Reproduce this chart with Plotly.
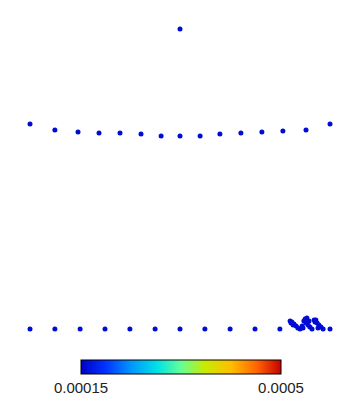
import plotly.graph_objects as go

# point positions (arbitrary units) and scalar values
x_vals = [0.500,
          0.000, 0.083, 0.160, 0.230, 0.300, 0.370, 0.437, 0.500, 0.567, 0.633, 0.703, 0.773, 0.843, 0.920, 1.000,
          0.000, 0.083, 0.167, 0.250, 0.333, 0.417, 0.500, 0.583, 0.667, 0.750, 0.833, 1.000,
          0.867, 0.873, 0.880, 0.887, 0.893, 0.900, 0.877, 0.870,
          0.907, 0.913, 0.917, 0.923, 0.920, 0.927, 0.933, 0.940, 0.910, 0.930,
          0.947, 0.953, 0.957, 0.963, 0.970, 0.977, 0.960, 0.950]
y_vals = [1.000,
          0.683, 0.663, 0.657, 0.653, 0.653, 0.650, 0.643, 0.643, 0.643, 0.650, 0.653, 0.657, 0.660, 0.663, 0.683,
          0.000, 0.000, 0.000, 0.000, 0.000, 0.000, 0.000, 0.000, 0.000, 0.000, 0.000, 0.000,
          0.027, 0.023, 0.017, 0.010, 0.003, 0.000, 0.013, 0.020,
          0.010, 0.027, 0.033, 0.037, 0.020, 0.013, 0.007, 0.000, 0.003, 0.027,
          0.030, 0.030, 0.020, 0.013, 0.007, 0.000, 0.003, 0.023]
c_vals = [0.00016] * len(x_vals)

cmin, cmax = 0.00015, 0.0005
tick_vals = [0.00015, 0.0005]
tick_text = ["0.00015", "0.0005"]

colorscale = [
    [0.0, "rgb(0,0,200)"],
    [0.12, "rgb(0,50,255)"],
    [0.25, "rgb(0,150,255)"],
    [0.38, "rgb(0,225,230)"],
    [0.5, "rgb(100,255,150)"],
    [0.62, "rgb(200,235,0)"],
    [0.75, "rgb(255,190,0)"],
    [0.88, "rgb(255,100,0)"],
    [1.0, "rgb(200,0,0)"],
]

W, H = 362, 395
OFF = 8  # page body margin
fig = go.Figure(go.Scatter(
    x=x_vals, y=y_vals, mode="markers",
    marker=dict(
        size=5, color=c_vals, cmin=cmin, cmax=cmax, colorscale=colorscale,
        line=dict(width=0),
        colorbar=dict(
            orientation="h", lenmode="pixels", len=200, thickness=14,
            x=(181 - OFF) / W, xanchor="center", y=1 - (360 - OFF) / H, yanchor="top",
            xpad=0, ypad=0, outlinecolor="black", outlinewidth=1,
            tickvals=tick_vals, ticktext=tick_text,
            ticks="outside", ticklen=1, tickcolor="rgba(0,0,0,0)",
            tickfont=dict(family="Liberation Sans", size=15, color="#222"),
        ),
    ),
    hoverinfo="skip",
))

fig.update_layout(
    width=W, height=H, margin=dict(l=0, r=0, t=0, b=0),
    paper_bgcolor="white", plot_bgcolor="white", showlegend=False,
    xaxis=dict(range=[(OFF - 30) / 300, (W + OFF - 30) / 300], visible=False),
    yaxis=dict(range=[(329 - H - OFF) / 300, (329 - OFF) / 300], visible=False),
)
fig.write_html("out.html")
